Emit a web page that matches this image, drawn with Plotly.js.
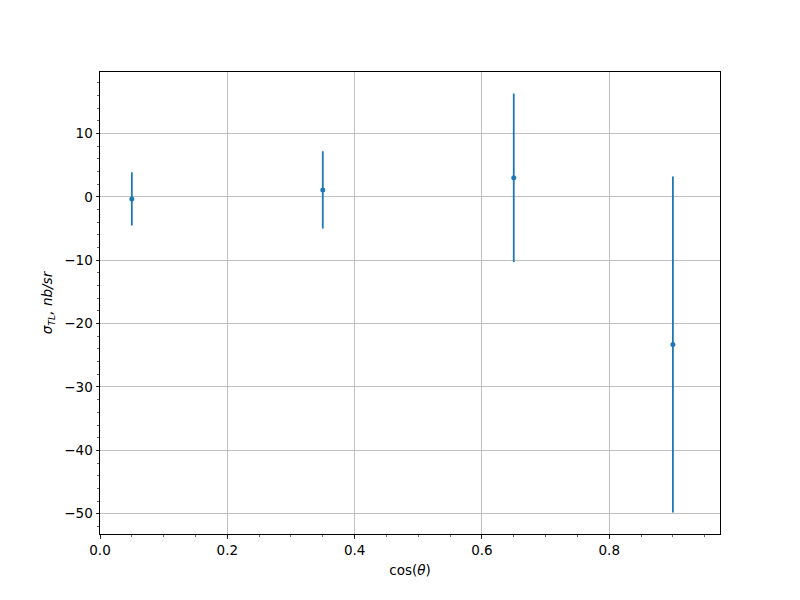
<!DOCTYPE html>
<html>
<head>
<meta charset="utf-8">
<script src="https://cdn.plot.ly/plotly-3.0.1.min.js"></script>
<style>html,body{margin:0;padding:0;background:#fff;}</style>
</head>
<body>
<div id="chart" style="width:800px;height:600px;"></div>
<script>
const cosTheta = [0.05, 0.35, 0.65, 0.90];
const sigmaTL = [-0.32, 1.1, 3.0, -23.3];
const sigmaErr = [4.2, 6.1, 13.3, 26.5];

const trace = {
  x: cosTheta,
  y: sigmaTL,
  type: 'scatter',
  mode: 'markers',
  marker: {color: '#1f77b4', size: 5},
  error_y: {type: 'data', array: sigmaErr, visible: true, color: '#1f77b4', thickness: 1.8, width: 0},
  showlegend: false
};

const fontFam = 'DejaVu Sans, sans-serif';
const layout = {
  width: 800, height: 600,
  margin: {l: 100, r: 80, t: 72, b: 66},
  paper_bgcolor: '#fff', plot_bgcolor: '#fff',
  font: {family: fontFam, size: 13.5, color: '#000'},
  xaxis: {
    range: [0, 0.974],
    tickvals: [0, 0.2, 0.4, 0.6, 0.8],
    ticktext: ['0.0', '0.2', '0.4', '0.6', '0.8'],
    ticks: 'outside', ticklen: 3.5, tickwidth: 0.8, tickcolor: '#000',
    showline: true, linecolor: '#000', linewidth: 1, mirror: true,
    showgrid: true, gridcolor: '#b0b0b0', gridwidth: 0.8,
    zeroline: false,
    minor: {dtick: 0.05, tick0: 0, ticks: 'outside', ticklen: 2, tickcolor: '#000', tickwidth: 0.6, showgrid: false},
    title: {text: 'cos(<i>θ</i>)', font: {family: fontFam, size: 13.5}, standoff: 8}
  },
  yaxis: {
    range: [-53.2, 19.7],
    tickvals: [-50, -40, -30, -20, -10, 0, 10],
    ticks: 'outside', ticklen: 3.5, tickwidth: 0.8, tickcolor: '#000',
    showline: true, linecolor: '#000', linewidth: 1, mirror: true,
    showgrid: true, gridcolor: '#b0b0b0', gridwidth: 0.8,
    zeroline: false,
    minor: {dtick: 2, tick0: 0, ticks: 'outside', ticklen: 2, tickcolor: '#000', tickwidth: 0.6, showgrid: false},
    title: {text: '<i>σ</i><sub><i>TL</i></sub><i>, nb/sr</i>', font: {family: fontFam, size: 13.5}, standoff: 8}
  }
};

Plotly.newPlot('chart', [trace], layout, {displayModeBar: false, staticPlot: true});
</script>
</body>
</html>
